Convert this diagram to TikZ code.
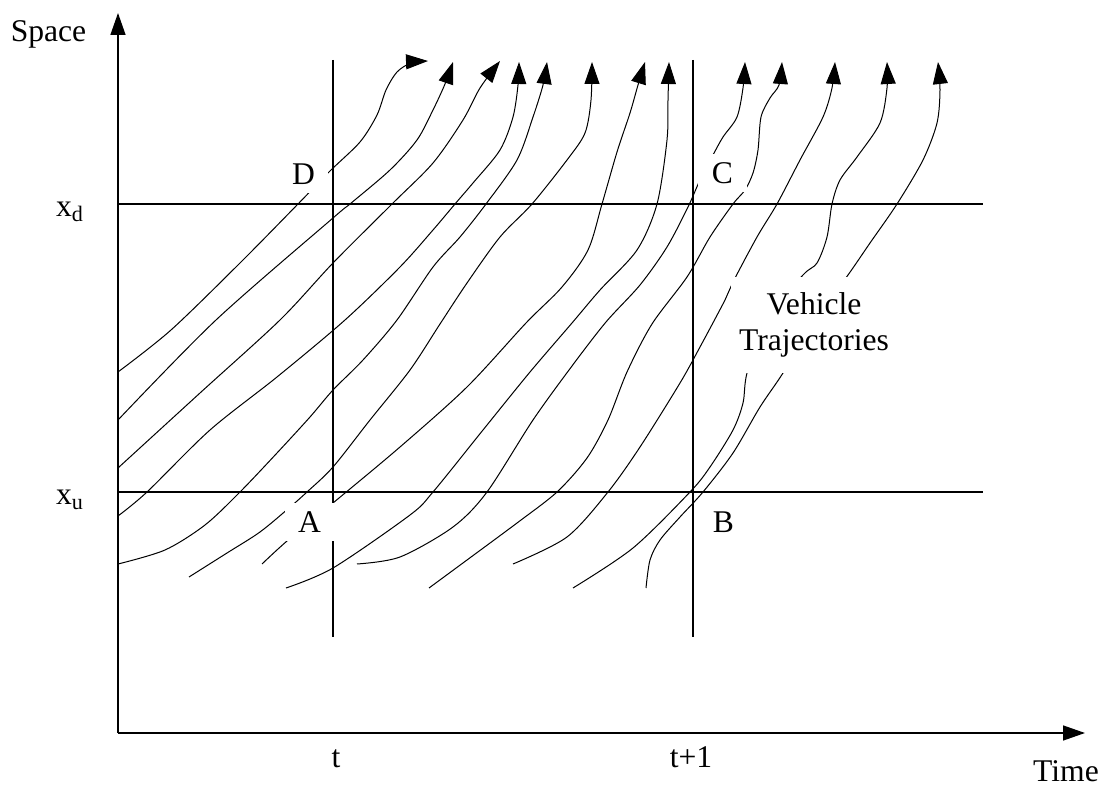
\documentclass[tikz,border=0pt]{standalone}
\usepackage{fontspec}
\setmainfont{Liberation Serif}
\usetikzlibrary{arrows.meta}
\begin{document}
\begin{tikzpicture}[
        x=0.5pt, y=-0.5pt,
        axis/.style={-{Triangle[length=11pt, width=7.5pt]}, line width=0.7pt},
        guide/.style={line width=0.6pt},
        traj/.style={line width=0.5pt},
        trajarrow/.style={traj, -{Triangle[length=11pt, width=7.5pt]}},
        txt/.style={inner sep=0pt, font=\fontsize{15.8}{18}\selectfont},
        pt/.style={txt, fill=white, minimum width=24.5pt, minimum height=19pt}
    ]
    \useasboundingbox (0,0) rectangle (1103,785);

    % Axes
    \coordinate (origin) at (118, 733);
    \coordinate (spacetop) at (118, 13);
    \coordinate (timeend) at (1085, 733);
    \draw[axis] (origin) -- (spacetop);
    \draw[axis] (origin) -- (timeend);
    \node[txt, anchor=base] (space) at (48.5, 42) {Space};
    \node[txt, anchor=base] (time) at (1066, 781) {Time};

    % Section and interval lines
    \coordinate (xd0) at (118, 204);
    \coordinate (xd1) at (983, 204);
    \coordinate (xu0) at (118, 492);
    \coordinate (xu1) at (983, 492);
    \coordinate (t0) at (333, 60);
    \coordinate (t1) at (333, 637);
    \coordinate (tn0) at (693, 60);
    \coordinate (tn1) at (693, 637);
    \draw[guide] (xd0) -- (xd1);
    \draw[guide] (xu0) -- (xu1);
    \draw[guide] (t0) -- (t1);
    \draw[guide] (tn0) -- (tn1);

    \node[txt] (xd) at (70, 212) {x\textsubscript{d}};
    \node[txt] (xu) at (70, 500) {x\textsubscript{u}};
    \node[txt, anchor=base] (tlab) at (336, 767) {t};
    \node[txt, anchor=base] (tnlab) at (691, 767) {t+1};

    % Vehicle trajectories
    \draw[trajarrow] plot[smooth] coordinates {(118,372) (171,330) (240,263) (298,204) (330,171) (360,142) (377,115) (386,90) (397,72) (411,63) (428,61)};
    \draw[trajarrow] plot[smooth] coordinates {(118,420) (216,320) (333,218) (350,204) (390,170) (417,140) (433,110) (445,84) (453,62)};
    \draw[trajarrow] plot[smooth] coordinates {(118,468) (200,393) (280,320) (333,263) (392,204) (433,163) (463,120) (480,88) (500,61)};
    \draw[trajarrow] plot[smooth] coordinates {(118,516) (147,492) (210,430) (277,377) (345,320) (400,267) (433,230) (455,204) (473,183) (500,150) (513,117) (518,85) (519,62)};
    \draw[trajarrow] plot[smooth] coordinates {(118,564) (165,550) (205,525) (240,492) (277,453) (310,417) (333,390) (363,360) (397,320) (433,267) (460,237) (486,204) (517,160) (533,117) (543,85) (547,62)};
    \draw[trajarrow] plot[smooth] coordinates {(189,577) (227,553) (260,532) (289,508) (307,492) (333,467) (370,420) (410,370) (440,324) (467,283) (500,237) (532,204) (567,160) (585,133) (591,100) (592,62)};
    \draw[trajarrow] plot[smooth] coordinates {(262,564) (287,541) (333,503) (400,447) (467,387) (526,323) (562,287) (588,250) (602,204) (617,152) (630,113) (638,85) (645,62)};
    \draw[trajarrow] plot[smooth] coordinates {(286,588) (333,568) (410,515) (433,492) (483,430) (530,372) (572,323) (600,290) (637,250) (657,204) (667,140) (668,100) (669,62)};
    \draw[trajarrow] plot[smooth] coordinates {(357,564) (400,557) (453,527) (487,492) (533,420) (572,366) (606,322) (640,285) (667,247) (688,207) (700,180) (713,155) (723,137) (737,117) (743,88) (745,62)};
    \draw[trajarrow] plot[smooth] coordinates {(429,588) (467,560) (517,523) (557,492) (587,458) (608,420) (627,372) (652,324) (687,277) (710,237) (733,204) (745,190) (753,173) (758,150) (761,117) (770,98) (779,85) (782,62)};
    \draw[trajarrow] plot[smooth] coordinates {(513,564) (567,537) (608,492) (640,447) (680,383) (700,347) (725,300) (733,282) (757,237) (777,204) (800,160) (823,117) (832,88) (835,62)};
    \draw[trajarrow] plot[smooth] coordinates {(573,588) (633,548) (690,492) (710,467) (733,430) (743,403) (747,373) (765,320) (803,275) (817,263) (827,237) (832,204) (840,180) (857,157) (880,123) (887,88) (887,62)};
    \draw[trajarrow] plot[smooth] coordinates {(646,588) (650,560) (660,540) (680,517) (703,492) (733,453) (760,407) (783,373) (815,320) (848,275) (870,243) (897,204) (923,160) (937,123) (940,90) (938,62)};

    % Points and caption over the trajectories
    \node[pt] (D) at (303.5, 174) {D};
    \node[pt] (C) at (722.5, 173.5) {C};
    \node[pt] (A) at (309.5, 522) {A};
    \node[pt] (B) at (723.5, 522) {B};
    \node[txt, fill=white, align=center, minimum width=83pt, minimum height=48pt] (vt) at (814, 325) {Vehicle\\Trajectories};

\end{tikzpicture}
\end{document}
